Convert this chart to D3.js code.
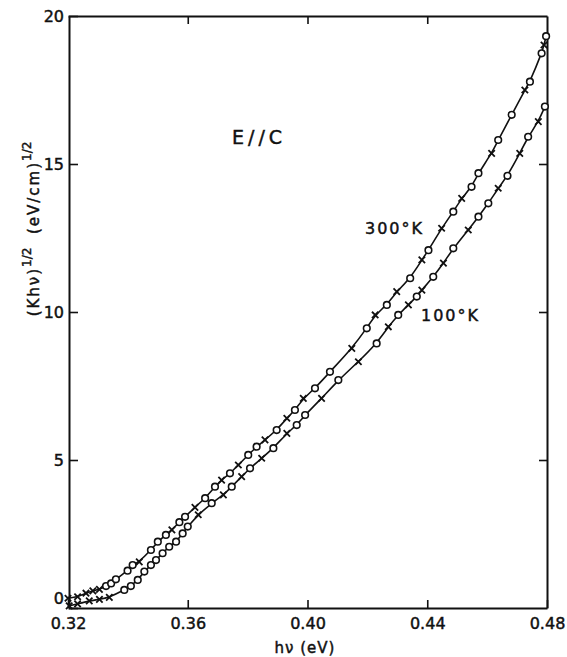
<!DOCTYPE html>
<html>
<head>
<meta charset="utf-8">
<script src="https://cdn.jsdelivr.net/npm/d3@7"></script>
<style>
  body { margin: 0; background: #fff; }
  text { font-family: "DejaVu Sans", sans-serif; fill: #111; stroke: #111; stroke-width: 0.45px; }
</style>
</head>
<body>
<div class="chart"></div>
<script>
// photon energy (eV) and (K h nu)^1/2
var hv300 = [0.3200,0.3232,0.3260,0.3283,0.3305,0.3327,0.3344,0.3360,0.3399,0.3416,
             0.3438,0.3477,0.3500,0.3527,0.3547,0.3572,0.3591,0.3624,0.3658,0.3691,
             0.3713,0.3741,0.3769,0.3802,0.3830,0.3858,0.3897,0.3931,0.3958,0.3986,
             0.4025,0.4075,0.4148,0.4198,0.4226,0.4265,0.4298,0.4343,0.4382,0.4404,
             0.4448,0.4487,0.4515,0.4548,0.4571,0.4615,0.4637,0.4682,0.4726,0.4743,
             0.4782,0.4790,0.4797];
var k300 = [0.33,0.38,0.50,0.58,0.63,0.74,0.83,0.97,1.26,1.45,
            1.56,1.96,2.24,2.47,2.64,2.90,3.08,3.40,3.71,4.10,
            4.32,4.55,4.83,5.17,5.45,5.68,6.01,6.41,6.69,7.08,
            7.42,7.98,8.77,9.45,9.90,10.24,10.69,11.14,11.76,12.09,
            12.83,13.39,13.84,14.23,14.69,15.36,15.81,16.66,17.50,17.78,
            18.74,19.02,19.32];
var mk300 = ["x","x","x","x","x","o","o","o","o","o",
             "x","o","o","o","x","o","o","x","o","o",
             "x","o","x","o","o","x","o","x","o","x",
             "o","o","x","o","x","o","x","o","x","o",
             "x","o","x","o","o","x","o","o","x","o",
             "o","x","o"];

var hv100 = [0.3204,0.3232,0.3271,0.3305,0.3338,0.3388,0.3410,0.3433,0.3455,0.3477,
             0.3494,0.3516,0.3538,0.3561,0.3583,0.3600,0.3635,0.3680,0.3719,0.3747,
             0.3780,0.3808,0.3847,0.3886,0.3931,0.3964,0.3992,0.4047,0.4103,0.4170,
             0.4231,0.4270,0.4303,0.4337,0.4365,0.4382,0.4420,0.4454,0.4487,0.4537,
             0.4571,0.4604,0.4637,0.4668,0.4709,0.4737,0.4771,0.4793];
var k100 = [0.07,0.14,0.24,0.29,0.36,0.61,0.74,0.95,1.23,1.45,
            1.62,1.85,2.07,2.24,2.52,2.75,3.15,3.54,3.82,4.10,
            4.44,4.72,5.06,5.40,5.90,6.18,6.52,7.08,7.70,8.32,
            8.94,9.50,9.90,10.24,10.52,10.74,11.19,11.65,12.15,12.77,
            13.22,13.67,14.18,14.60,15.36,15.92,16.43,16.94];
var mk100 = ["x","x","x","x","x","o","o","o","o","o",
             "o","o","o","o","o","o","x","o","x","o",
             "x","o","x","o","x","o","o","x","o","x",
             "o","x","o","x","o","x","o","x","o","x",
             "o","o","x","o","x","o","x","o"];

var xTicks = [0.32, 0.36, 0.40, 0.44, 0.48];
var yTicks = [0, 5, 10, 15, 20];

var w = 567, h = 657;

var svg = d3.select(".chart")
            .append("svg")
            .attr("width", w)
            .attr("height", h);

var x = d3.scaleLinear().domain([0.32, 0.48]).range([68, 547]);
var y = d3.scaleLinear().domain([0, 20]).range([608, 16]);

// axes, ticks point inward on all four sides
var bottom = svg.append("g")
    .attr("transform", "translate(0,608)")
    .call(d3.axisBottom(x).tickValues(xTicks).tickSizeInner(-8).tickSizeOuter(0)
          .tickPadding(10).tickFormat(d3.format(".2f")));

var left = svg.append("g")
    .attr("transform", "translate(69,0)")
    .call(d3.axisLeft(y).tickValues(yTicks).tickSizeInner(-9).tickSizeOuter(0)
          .tickPadding(5).tickFormat(d3.format("d")));

svg.append("g")
    .attr("transform", "translate(0,16)")
    .call(d3.axisTop(x).tickValues(xTicks.slice(1, 4)).tickSizeInner(-8).tickSizeOuter(0)
          .tickFormat(""));

svg.append("g")
    .attr("transform", "translate(547,0)")
    .call(d3.axisRight(y).tickValues(yTicks.slice(1, 4)).tickSizeInner(-8).tickSizeOuter(0)
          .tickFormat(""));

svg.selectAll(".domain").attr("stroke", "#111").attr("stroke-width", 2);
svg.selectAll(".tick line").attr("stroke", "#111").attr("stroke-width", 1.6);
svg.selectAll(".tick text").attr("font-size", 16).attr("font-family", "DejaVu Sans").attr("fill", "#111");
left.selectAll(".tick text").filter(function(d) { return d == 0; }).attr("dy", "-0.3em");

// axis titles
svg.append("text")
    .attr("x", 305)
    .attr("y", 653)
    .attr("text-anchor", "middle")
    .attr("font-size", 15)
    .attr("letter-spacing", 1)
    .text("h\u03bd (eV)");

var ylab = svg.append("text")
    .attr("transform", "translate(39,229) rotate(-90)")
    .attr("text-anchor", "middle")
    .attr("font-size", 15)
    .attr("letter-spacing", 2);
ylab.append("tspan").text("(Kh\u03bd)");
ylab.append("tspan").attr("dy", -8).attr("font-size", 12).attr("letter-spacing", 0).text("1/2");
ylab.append("tspan").attr("dy", 8).text("\u00a0 (eV/cm)");
ylab.append("tspan").attr("dy", -8).attr("font-size", 12).attr("letter-spacing", 0).text("1/2");

// annotations
svg.append("text").attr("x", 232).attr("y", 144).attr("font-size", 19)
    .attr("letter-spacing", 4).text("E//C");
svg.append("text").attr("x", 365).attr("y", 234).attr("font-size", 16)
    .attr("letter-spacing", 2).text("300\u00b0K");
svg.append("text").attr("x", 421).attr("y", 321).attr("font-size", 16)
    .attr("letter-spacing", 2).text("100\u00b0K");

// curves
var series = [
  {hv: hv300, k: k300, mk: mk300},
  {hv: hv100, k: k100, mk: mk100}
];

var line = d3.line()
    .x(function(d) { return x(d[0]); })
    .y(function(d) { return y(d[1]); })
    .curve(d3.curveBasis);

series.forEach(function(s) {
  var pts = s.hv.map(function(v, i) { return [v, s.k[i], s.mk[i] || "o"]; });

  svg.append("path")
      .datum(pts)
      .attr("d", line)
      .attr("fill", "none")
      .attr("stroke", "#111")
      .attr("stroke-width", 1.6);

  svg.selectAll(null)
      .data(pts.filter(function(d) { return d[2] == "o"; }))
      .enter()
      .append("circle")
      .attr("cx", function(d) { return x(d[0]); })
      .attr("cy", function(d) { return y(d[1]); })
      .attr("r", 3.3)
      .attr("fill", "#fff")
      .attr("stroke", "#111")
      .attr("stroke-width", 1.6);

  svg.selectAll(null)
      .data(pts.filter(function(d) { return d[2] == "x"; }))
      .enter()
      .append("path")
      .attr("transform", function(d) { return "translate(" + x(d[0]) + "," + y(d[1]) + ")"; })
      .attr("d", "M-3.2,-3.2L3.2,3.2M-3.2,3.2L3.2,-3.2")
      .attr("stroke", "#111")
      .attr("stroke-width", 1.8);
});
</script>
</body>
</html>
